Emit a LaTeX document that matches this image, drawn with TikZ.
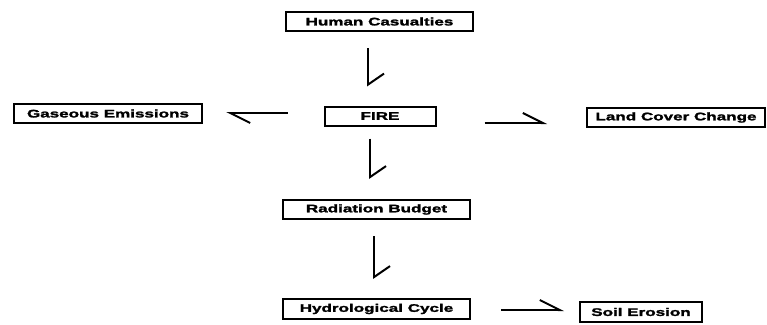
\documentclass[tikz,border=0pt]{standalone}
\usepackage{fontspec}
\usetikzlibrary{arrows.meta}
\newfontfamily\boxfont[FakeStretch=1.55,BoldFeatures={FakeBold=2,FakeStretch=1.55}]{Liberation Sans}
\tikzset{
  box/.style={draw, line width=2pt, minimum height=19pt, inner sep=0pt,
    font=\boxfont\bfseries\fontsize{11}{12}\selectfont},
  vflow/.style={-{Straight Barb[left,length=11pt,width=32pt]}, line width=2pt},
  hflow/.style={-{Straight Barb[left,length=20pt,width=20pt]}, line width=2pt}
}
\begin{document}
\begin{tikzpicture}[x=1pt,y=-1pt]
        \useasboundingbox (0,0) rectangle (767,324);
        % Boxes
        \node[box, minimum width=187pt] (hc) at (379.5,21.5) {Human Casualties};
        \node[box, minimum width=111pt] (fire) at (380,116) {FIRE};
        \node[box, minimum width=188pt] (gas) at (108,113.5) {Gaseous Emissions};
        \node[box, minimum width=178pt] (land) at (676,117.5) {Land Cover Change};
        \node[box, minimum width=187pt] (rad) at (376.5,209.5) {Radiation Budget};
        \node[box, minimum width=187pt, minimum height=20pt] (hydro) at (376.5,309) {Hydrological Cycle};
        \node[box, minimum width=122pt, minimum height=20pt] (soil) at (641,312) {Soil Erosion};
        
        % Links
        \draw[vflow, shorten <=16pt, shorten >=19pt] ([xshift=-11.5pt]hc.south) -- ([xshift=-11.5pt]hc.south |- fire.north);
        \draw[vflow, shorten <=12pt, shorten >=20pt] ([xshift=-10pt]fire.south) -- ([xshift=-10pt]fire.south |- rad.north);
        \draw[vflow, shorten <=16pt, shorten >=19pt] ([xshift=-2.5pt]rad.south) -- ([xshift=-2.5pt]rad.south |- hydro.north);
        \draw[hflow, shorten <=36pt, shorten >=23pt] ([yshift=3pt]fire.west) -- ([yshift=3pt]fire.west -| gas.east);
        \draw[hflow, shorten <=48pt, shorten >=39pt] ([yshift=-7pt]fire.east) -- ([yshift=-7pt]fire.east -| land.west);
        \draw[hflow, shorten <=30pt, shorten >=15pt] ([yshift=-1pt]hydro.east) -- ([yshift=-1pt]hydro.east -| soil.west);
        
    \end{tikzpicture}
\end{document}
